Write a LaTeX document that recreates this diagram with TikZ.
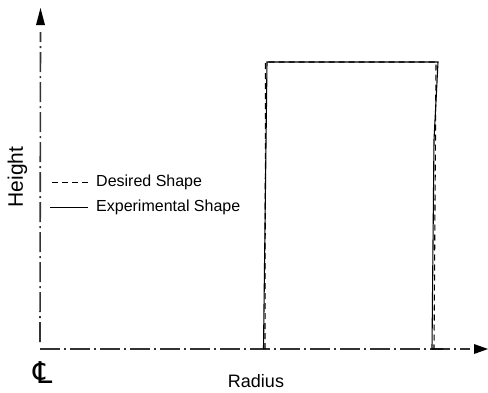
\documentclass[tikz,border=0pt]{standalone}
\usepackage{fontspec}
\setmainfont{Liberation Sans}
\newfontfamily\symfont{DejaVu Sans}
\begin{document}
\begin{tikzpicture}[>=latex, x=1pt, y=-1pt,
  axis/.style={line width=1.6pt, black!80, dash pattern=on 20pt off 4pt on 2pt off 4pt},
  arrowhead/.style={fill=black},
  desired/.style={line width=1.1pt, dash pattern=on 6pt off 4pt},
  experimental/.style={line width=1.1pt},
  legend/.style={anchor=west, inner sep=2pt, font=\fontsize{16}{19}\selectfont}]
 \useasboundingbox (0,0) rectangle (488,392);
 \coordinate (o) at (40,349);
 \coordinate (ytop) at (40.5,8);
 \coordinate (xend) at (488,349);
 \draw[axis] (40,342) -- (40.5,32);
 \fill[arrowhead] (ytop) -- ++(4.5,17) -- ++(-9,0) -- cycle;
 \draw[axis] (o) -- (470,349);
 \fill[arrowhead] (xend) -- ++(-14,-5) -- ++(0,10) -- cycle;
 \draw[desired] (265,349) -- (265.5,62) -- (436,62) -- (434,349);
 \draw[experimental] (263.5,349) -- (267,62) -- (438,62) -- (434,140) -- (432,349) -- (443,349);
 \node[legend] (desired) at (94,182) {Desired Shape};
 \node[legend] (experimental) at (94,207) {Experimental Shape};
 \draw[desired, line width=0.9pt] ([xshift=-6pt]desired.west) -- ++(-39,0);
 \draw[experimental, line width=0.8pt] ([xshift=-6pt]experimental.west) -- ++(-38,0);
 \node[rotate=90, font=\fontsize{21}{25}\selectfont] (height) at (17.5,177) {Height};
 \node[font=\fontsize{18}{22}\selectfont] (radius) at (256,381.5) {Radius};
 \node[font=\fontsize{30}{34}\selectfont] (cl) at (43,373) {\symfont ℄};
\end{tikzpicture}
\end{document}
